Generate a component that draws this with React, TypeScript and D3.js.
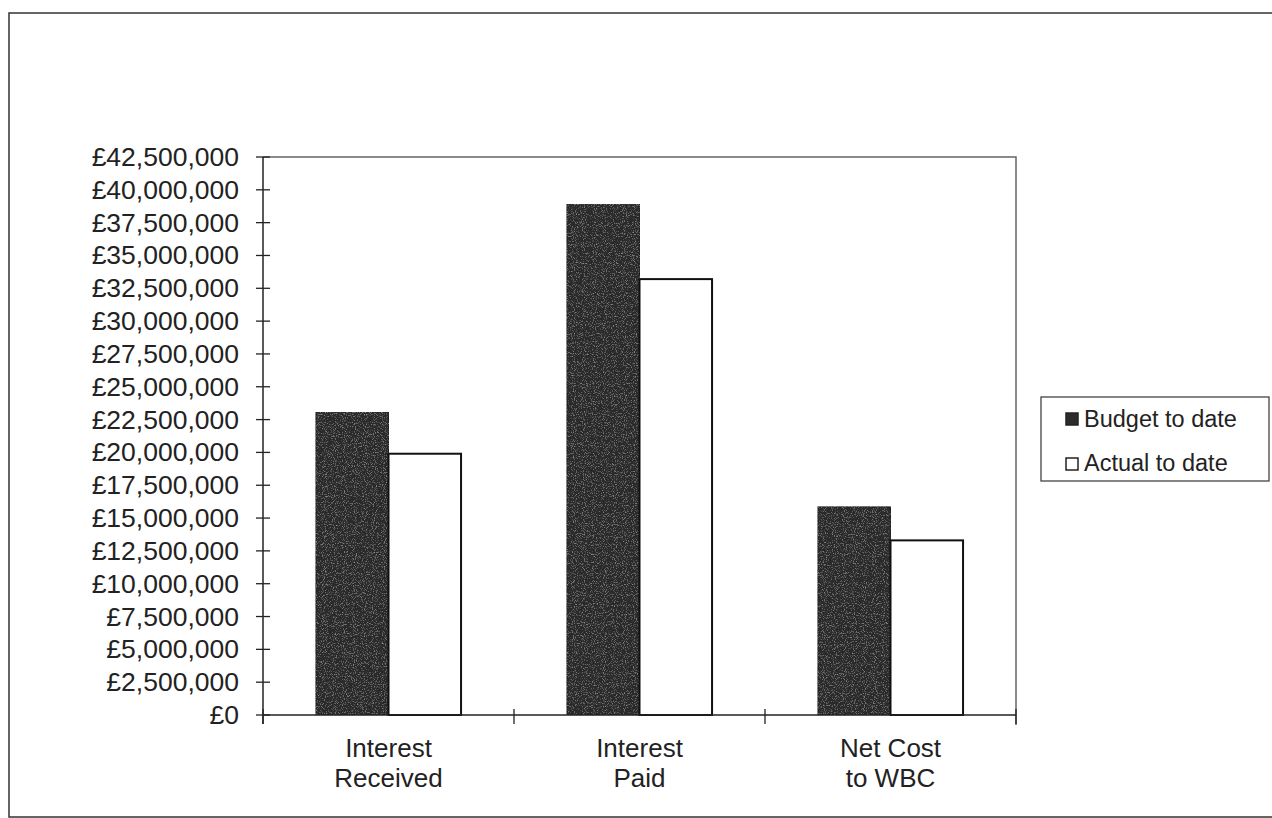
import React from "react";
import * as d3 from "d3";

const categories: string[][] = [
  ["Interest", "Received"],
  ["Interest", "Paid"],
  ["Net Cost", "to WBC"],
];
const seriesNames = ["Budget to date", "Actual to date"];
const budgetValues = [23050000, 38900000, 15850000];
const actualValues = [19900000, 33200000, 13300000];
const yTicks = d3.range(0, 42500001, 2500000);

const W = 1272;
const H = 818;
const M = { left: 263, right: 1016, top: 157, bottom: 715 };
const FONT = "'Liberation Sans', Arial, sans-serif";

export default function App() {
  const x0 = d3
    .scaleBand<number>()
    .domain(categories.map((_, i) => i))
    .range([M.left, M.right])
    .padding(0);
  const x1 = d3
    .scaleBand<string>()
    .domain(seriesNames)
    .range([0, x0.bandwidth()])
    .paddingInner(0)
    .paddingOuter(0.73);
  const y = d3.scaleLinear().domain([0, 42500000]).range([M.bottom, M.top]);
  const fmt = (v: number) => "£" + d3.format(",")(v);

  const boundaries = categories.map((_, i) => x0(i)!).concat([M.right]);
  const series = [budgetValues, actualValues];

  return (
    <svg
      width={W}
      height={H}
      style={{ position: "absolute", left: 0, top: 0, background: "#fff" }}
      fontFamily={FONT}
    >
      <defs>
        <filter id="grain" x="0" y="0" width="100%" height="100%">
          <feTurbulence type="fractalNoise" baseFrequency="0.9" numOctaves="2" seed="3" result="n" />
          <feColorMatrix
            in="n"
            type="matrix"
            values="0 0 0 0 0.55  0 0 0 0 0.55  0 0 0 0 0.55  0 0 0 1.4 -0.75"
            result="g"
          />
          <feComposite in="g" in2="SourceGraphic" operator="in" result="gi" />
          <feMerge>
            <feMergeNode in="SourceGraphic" />
            <feMergeNode in="gi" />
          </feMerge>
        </filter>
      </defs>
      {/* outer frame */}
      <rect x={9} y={13} width={1270} height={804} fill="none" stroke="#333" strokeWidth={1.5} />

      {/* plot border (top/right) */}
      <path
        d={`M${M.left},${M.top}H${M.right}V${M.bottom + 10}`}
        fill="none"
        stroke="#666"
        strokeWidth={1.5}
      />

      {/* bars */}
      {series.map((vals, si) =>
        vals.map((v, ci) => {
          const bx = x0(ci)! + x1(seriesNames[si])!;
          const by = y(v);
          return si === 0 ? (
            <rect
              key={`${si}-${ci}`}
              x={bx}
              y={by}
              width={x1.bandwidth()}
              height={M.bottom - by}
              fill="#2c2c2c"
              stroke="#222"
              strokeWidth={1}
              filter="url(#grain)"
            />
          ) : (
            <rect
              key={`${si}-${ci}`}
              x={bx}
              y={by}
              width={x1.bandwidth()}
              height={M.bottom - by}
              fill="#fff"
              stroke="#111"
              strokeWidth={2}
            />
          );
        })
      )}

      {/* y axis */}
      <line x1={M.left} x2={M.left} y1={M.top} y2={M.bottom + 9} stroke="#222" strokeWidth={1.5} />
      {yTicks.map((t) => (
        <g key={t}>
          <line x1={M.left - 7} x2={M.left + 7} y1={y(t)} y2={y(t)} stroke="#222" strokeWidth={1.3} />
          <text
            x={239}
            y={y(t)}
            textAnchor="end"
            dominantBaseline="central"
            fontSize={26.5}
            fill="#222"
          >
            {fmt(t)}
          </text>
        </g>
      ))}

      {/* x axis */}
      <line x1={M.left} x2={M.right} y1={M.bottom} y2={M.bottom} stroke="#222" strokeWidth={1.5} />
      {boundaries.map((b, i) => (
        <line key={i} x1={b} x2={b} y1={M.bottom - 6} y2={M.bottom + 9} stroke="#222" strokeWidth={1.3} />
      ))}
      {categories.map((lines, i) => (
        <text
          key={i}
          x={x0(i)! + x0.bandwidth() / 2}
          textAnchor="middle"
          fontSize={26}
          fill="#222"
        >
          {lines.map((l, li) => (
            <tspan key={li} x={x0(i)! + x0.bandwidth() / 2} y={757 + li * 30}>
              {l}
            </tspan>
          ))}
        </text>
      ))}

      {/* legend */}
      <rect x={1041} y={397} width={228} height={84} fill="#fff" stroke="#444" strokeWidth={1.3} />
      {seriesNames.map((s, i) => (
        <g key={s}>
          <rect
            x={1066}
            y={413 + i * 45}
            width={12}
            height={12}
            fill={i === 0 ? "#2c2c2c" : "#fff"}
            stroke="#222"
            strokeWidth={1.5}
          />
          <text x={1084} y={427 + i * 44} fontSize={23.5} fill="#222">
            {s}
          </text>
        </g>
      ))}
    </svg>
  );
}
